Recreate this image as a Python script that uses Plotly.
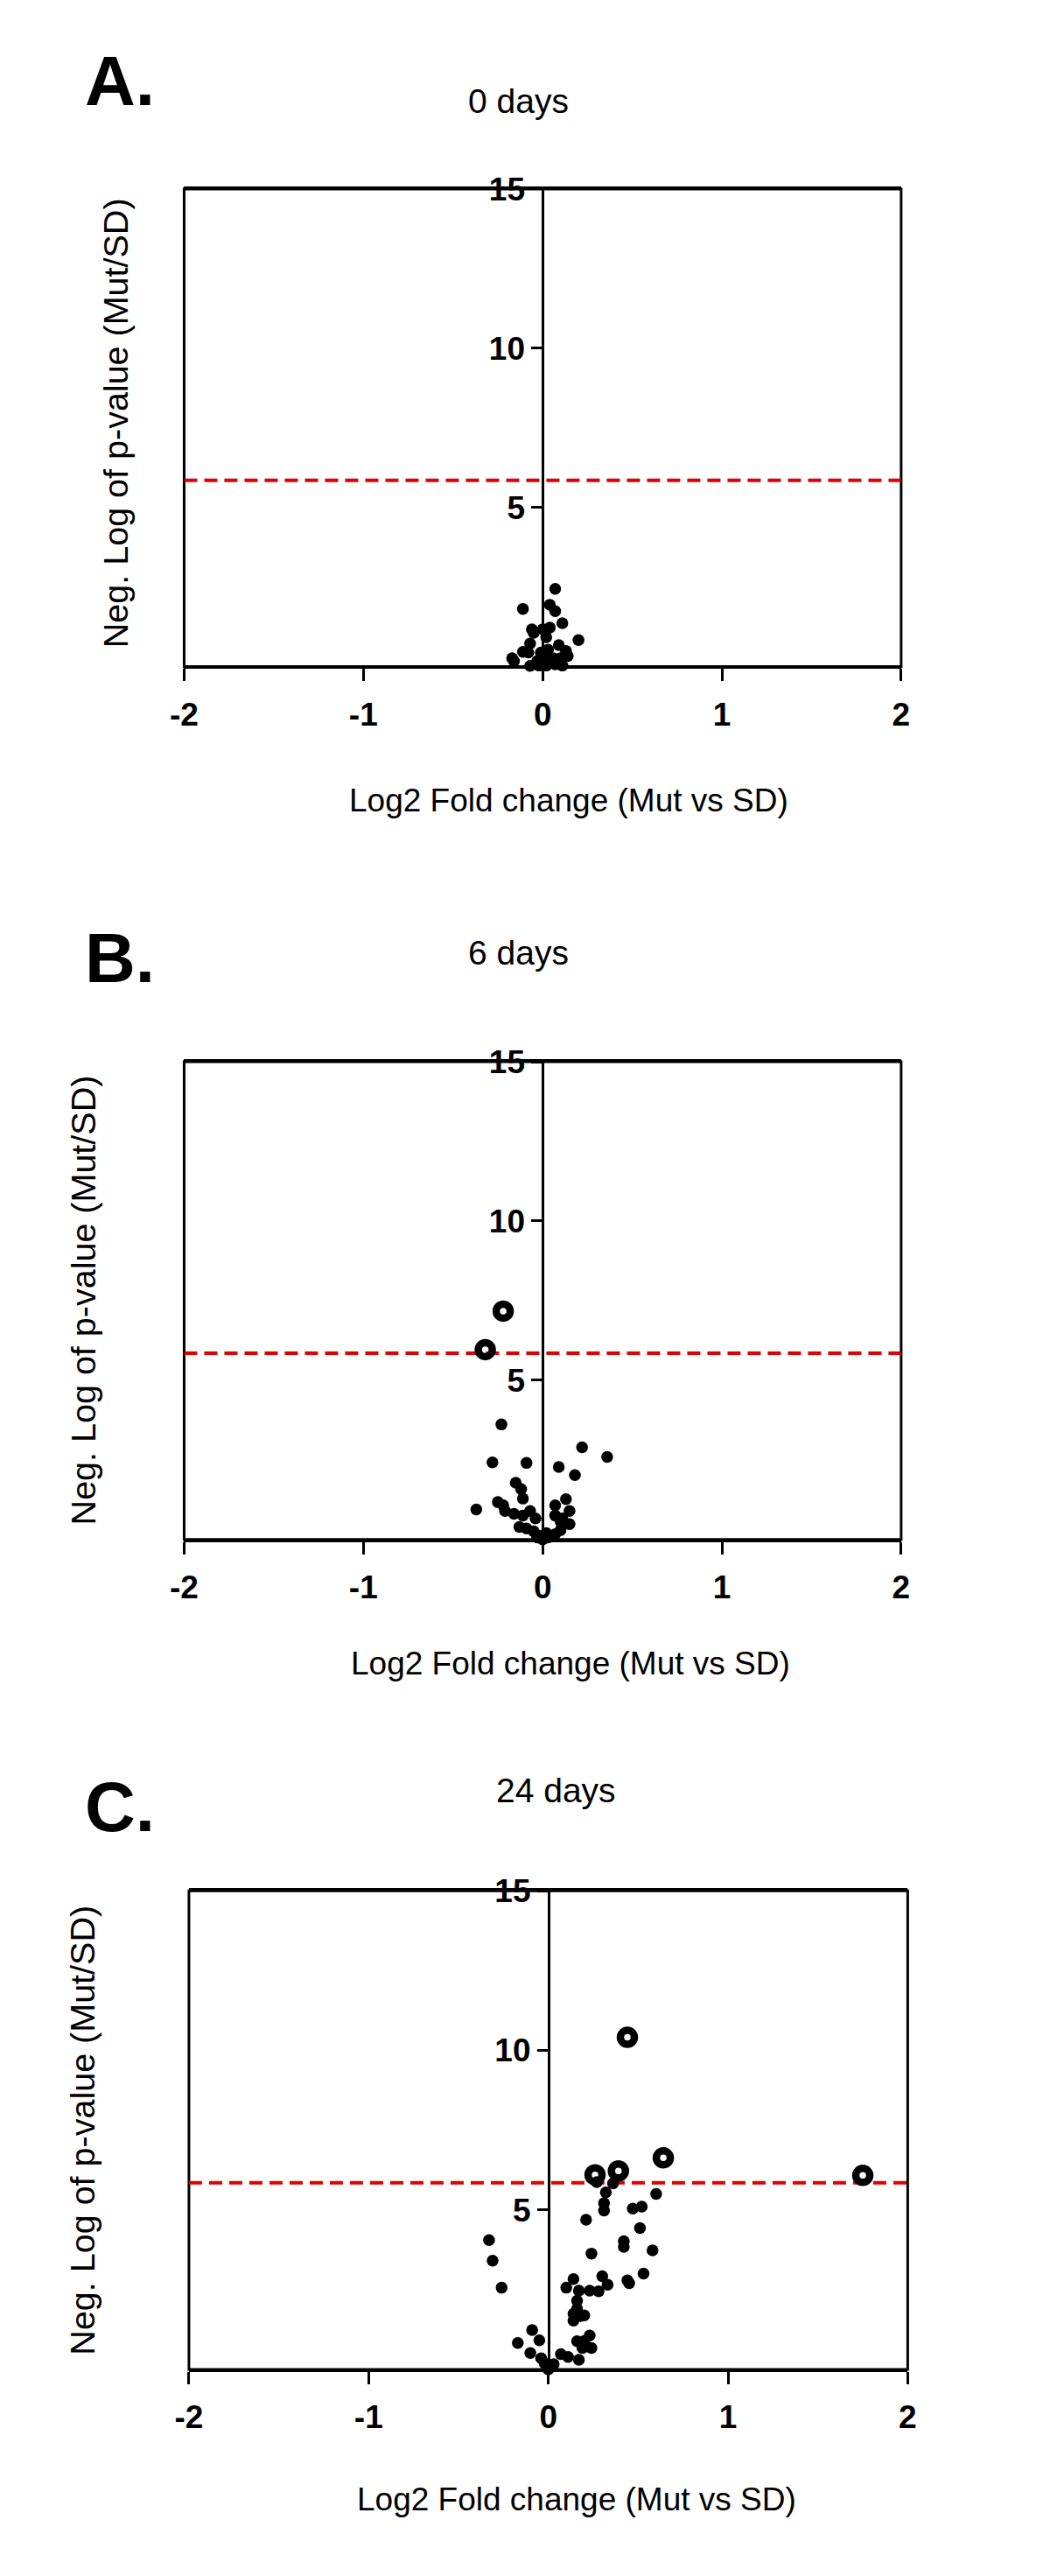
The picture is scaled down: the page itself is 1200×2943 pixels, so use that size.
import plotly.graph_objects as go

W, H = 1200, 2943

# ---------------- data ----------------
panel_letters = ["A.", "B.", "C."]
panel_titles = ["0 days", "6 days", "24 days"]
x_title = "Log2 Fold change (Mut vs SD)"
y_title = "Neg. Log of p-value (Mut/SD)"
x_tick_vals = [-2, -1, 0, 1, 2]
x_tick_text = ["-2", "-1", "0", "1", "2"]
y_tick_vals = [5, 10, 15]
y_tick_text = ["5", "10", "15"]
threshold = 5.85

# Panel A: 0 days (no significant points)
a_fc = [0.07, -0.11, 0.04, 0.07, 0.11, -0.06, -0.05, 0.00, 0.04, 0.02, 0.20,
        -0.07, -0.11, -0.17, -0.16, -0.08, -0.07, 0.09, 0.13, 0.14, -0.01,
        0.03, 0.06, -0.02, 0.02, 0.07, 0.11, 0.10, 0.01, -0.03, 0.04]
a_p = [2.44, 1.81, 1.94, 1.74, 1.36, 1.17, 1.06, 1.17, 1.22, 0.92, 0.83,
       0.72, 0.46, 0.26, 0.17, 0.44, 0.02, 0.67, 0.49, 0.33, 0.44,
       0.53, 0.26, 0.03, 0.03, 0.07, 0.03, 0.26, 0.26, 0.17, 0.17]
a_fc_sig = []
a_p_sig = []

# Panel B: 6 days
b_fc = [-0.23, 0.22, 0.36, -0.28, -0.09, 0.09, 0.18, -0.37, -0.15, -0.12,
        -0.11, -0.25, -0.22, -0.21, -0.16, -0.11, -0.07, -0.04, -0.13, -0.09,
        -0.05, -0.02, 0.00, 0.03, 0.07, 0.10, 0.13, 0.07, 0.15, 0.07,
        0.11, 0.15, 0.10, 0.02, -0.03]
b_p = [3.61, 2.89, 2.59, 2.42, 2.40, 2.27, 2.02, 0.94, 1.78, 1.58,
       1.28, 1.17, 1.07, 0.89, 0.80, 0.75, 0.89, 0.66, 0.39, 0.34,
       0.25, 0.11, 0.00, 0.06, 0.16, 0.29, 1.26, 1.07, 0.89, 0.75,
       0.66, 0.48, 0.57, 0.20, 0.06]
b_fc_sig = [-0.22, -0.32]
b_p_sig = [7.17, 5.96]

# Panel C: 24 days
c_fc = [-0.33, -0.31, -0.26, 0.27, 0.36, 0.32, 0.31, 0.31, 0.60, 0.47,
        0.52, 0.21, 0.51, 0.42, 0.42, 0.58, 0.24, 0.53, 0.44, 0.45,
        0.30, 0.14, 0.33, 0.28, 0.23, 0.10, 0.17, 0.16, 0.16, 0.20,
        0.14, 0.14, 0.18, -0.09, -0.17, -0.05, -0.10, -0.04, -0.02, 0.01,
        0.03, 0.07, 0.11, 0.17, 0.16, 0.23, 0.20, 0.24, 0.19, 0.00]
c_p = [4.05, 3.41, 2.56, 5.87, 5.83, 5.55, 5.21, 4.98, 5.50, 5.04,
       5.10, 4.69, 4.43, 4.02, 3.84, 3.73, 3.63, 3.00, 2.79, 2.70,
       2.92, 2.83, 2.65, 2.45, 2.47, 2.56, 2.47, 2.15, 1.90, 1.69,
       1.74, 1.53, 1.67, 1.23, 0.83, 0.91, 0.51, 0.35, 0.18, 0.07,
       0.16, 0.48, 0.39, 0.30, 0.88, 1.06, 0.89, 0.67, 0.67, 0.00]
c_fc_sig = [0.44, 0.64, 0.26, 0.39, 1.75]
c_p_sig = [10.41, 6.63, 6.10, 6.22, 6.08]

panels_fc = [a_fc, b_fc, c_fc]
panels_p = [a_p, b_p, c_p]
panels_fc_sig = [a_fc_sig, b_fc_sig, c_fc_sig]
panels_p_sig = [a_p_sig, b_p_sig, c_p_sig]

# ---------------- geometry (target pixels in the picture) ----------------
frames = [(210, 1030, 216, 762), (210, 1030, 1214, 1760), (215.5, 1037.5, 2162, 2709)]
letter_pos = [(94, 93), (94, 1095), (94, 2066)]
title_pos = [(592, 116), (592, 1089), (635, 2047)]
xtitle_pos = [(650, 915), (652, 1902), (659, 2858)]
ytitle_pos = [(131, 483), (94, 1487), (94, 2436)]

FONT = "Liberation Sans, Arial, sans-serif"
RED = "#e00000"

# empirical mapping between layout pixels and the photographed page
OFF = 8
SX, CX = 0.979, 15.6
SY, CY = 0.994, 20.0


def px(t):
    return ((t - CX) / SX - OFF) / W


def py(t):
    return 1 - ((t - CY) / SY - OFF) / H


fig = go.Figure()
layout = dict(width=W, height=H, margin=dict(l=0, r=0, t=0, b=0), autosize=False,
              paper_bgcolor="white", plot_bgcolor="white", showlegend=False,
              annotations=[], shapes=[])

for i in range(3):
    L, R, T, B = frames[i]
    n = "" if i == 0 else str(i + 1)
    xdom = [px(L), px(R)]
    ydom = [py(B), py(T)]
    zero_pos = (xdom[0] + xdom[1]) / 2
    layout["xaxis" + n] = dict(
        domain=xdom, range=[-2, 2], anchor="y" + n, showline=True, mirror=True,
        linecolor="black", linewidth=3, ticks="outside", ticklen=14, tickwidth=3,
        tickcolor="black", tickvals=x_tick_vals, ticktext=x_tick_text,
        ticklabelstandoff=6,
        tickfont=dict(family=FONT, size=37, color="black", weight="bold"),
        showgrid=False, zeroline=False, layer="below traces", fixedrange=True)
    layout["yaxis" + n] = dict(
        domain=ydom, range=[0, 15], anchor="free", position=zero_pos, side="left",
        showline=True, linecolor="black", linewidth=2.5,
        ticks="outside", ticklen=12, tickwidth=2.5, tickcolor="black",
        tickvals=y_tick_vals, ticktext=y_tick_text,
        tickfont=dict(family=FONT, size=37, color="black", weight="bold"),
        showgrid=False, zeroline=False, layer="below traces", fixedrange=True)

    # plot frame
    layout["shapes"].append(dict(type="rect", xref="x" + n + " domain", yref="y" + n + " domain",
                                 x0=0, x1=1, y0=0, y1=1, line=dict(color="black", width=3),
                                 layer="below"))

    # threshold line
    fig.add_trace(go.Scatter(x=[-2, 2], y=[threshold, threshold], mode="lines",
                             line=dict(color=RED, width=4, dash="15px,8px"),
                             xaxis="x" + n, yaxis="y" + n, hoverinfo="skip"))
    # non-significant points
    fig.add_trace(go.Scatter(x=panels_fc[i], y=panels_p[i], mode="markers",
                             marker=dict(size=13.5, color="black"), cliponaxis=False,
                             xaxis="x" + n, yaxis="y" + n))
    # significant points
    if panels_fc_sig[i]:
        fig.add_trace(go.Scatter(x=panels_fc_sig[i], y=panels_p_sig[i], mode="markers",
                                 marker=dict(size=16, symbol="circle-open", color="black",
                                             line=dict(width=8.5, color="black")),
                                 cliponaxis=False, xaxis="x" + n, yaxis="y" + n))

    ann = layout["annotations"]
    lx, ly = letter_pos[i]
    ann.append(dict(text="<b>" + panel_letters[i] + "</b>", x=px(lx), y=py(ly),
                    xref="paper", yref="paper", xanchor="left", yanchor="middle",
                    showarrow=False, font=dict(family=FONT, size=80, color="black")))
    tx, ty = title_pos[i]
    ann.append(dict(text=panel_titles[i], x=px(tx), y=py(ty), xref="paper", yref="paper",
                    xanchor="center", yanchor="middle", showarrow=False,
                    font=dict(family=FONT, size=39, color="black")))
    qx, qy = xtitle_pos[i]
    ann.append(dict(text=x_title, x=px(qx), y=py(qy), xref="paper", yref="paper",
                    xanchor="center", yanchor="middle", showarrow=False,
                    font=dict(family=FONT, size=37, color="black")))
    rx, ry = ytitle_pos[i]
    ann.append(dict(text=y_title, x=px(rx), y=py(ry), xref="paper", yref="paper",
                    xanchor="center", yanchor="middle", showarrow=False, textangle=-90,
                    font=dict(family=FONT, size=39.5, color="black")))

fig.update_layout(**layout)
fig.write_html("out.html")
